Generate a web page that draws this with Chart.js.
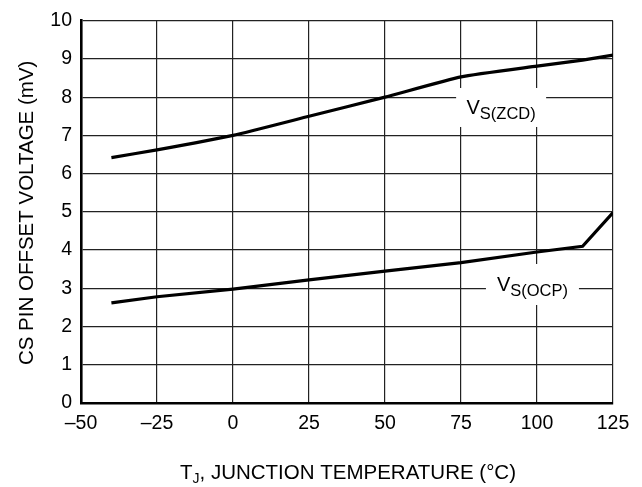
<!DOCTYPE html>
<html>
<head>
<meta charset="utf-8">
<script src="https://cdn.jsdelivr.net/npm/chart.js@4.4.0/dist/chart.umd.min.js"></script>
<style>
  html, body { margin: 0; padding: 0; background: #fff; }
  #wrap { width: 642px; height: 487px; }
</style>
</head>
<body>
<div id="wrap"><canvas id="c" width="642" height="487"></canvas></div>
<script>
const temperatures = [-40, -25, 0, 25, 50, 75, 100, 115, 125];
const vsZcd = [6.42, 6.62, 7.0, 7.5, 8.0, 8.53, 8.81, 8.97, 9.1];
const vsOcp = [2.62, 2.78, 2.98, 3.22, 3.45, 3.67, 3.95, 4.1, 4.98];
const xTicks = [-50, -25, 0, 25, 50, 75, 100, 125];
const yTicks = [0, 1, 2, 3, 4, 5, 6, 7, 8, 9, 10];
const xTitleMain = 'T';
const xTitleSub = 'J';
const xTitleRest = ', JUNCTION TEMPERATURE (\u00B0C)';
const yTitle = 'CS PIN OFFSET VOLTAGE (mV)';
const curveLabels = [
  { main: 'V', sub: 'S(ZCD)', x: 88.2, y: 7.73, w: 90, h: 39 },
  { main: 'V', sub: 'S(OCP)', x: 98.5, y: 3.10, w: 93, h: 41 }
];

const FONT = '"Liberation Sans", Arial, Helvetica, sans-serif';

const toPts = (xs, ys) => xs.map((x, i) => ({ x: x, y: ys[i] }));

const annot = {
  id: 'annot',
  afterDatasetsDraw(chart) {
    const ctx = chart.ctx;
    const xs = chart.scales.x, ys = chart.scales.y;
    ctx.save();
    ctx.textBaseline = 'alphabetic';
    curveLabels.forEach(l => {
      const cx = xs.getPixelForValue(l.x);
      const cy = ys.getPixelForValue(l.y);
      ctx.fillStyle = '#fff';
      ctx.fillRect(cx - l.w / 2, cy - l.h / 2, l.w, l.h);
      ctx.font = '20px ' + FONT;
      const wm = ctx.measureText(l.main).width;
      ctx.font = '16.5px ' + FONT;
      const ws = ctx.measureText(l.sub).width;
      const x0 = cx - (wm + ws) / 2;
      ctx.fillStyle = '#000';
      ctx.font = '20px ' + FONT;
      ctx.fillText(l.main, x0, cy + 7);
      ctx.font = '16.5px ' + FONT;
      ctx.fillText(l.sub, x0 + wm, cy + 12);
    });
    ctx.restore();
  },
  afterDraw(chart) {
    const ctx = chart.ctx;
    const a = chart.chartArea;
    ctx.save();
    ctx.fillStyle = '#000';
    ctx.textBaseline = 'alphabetic';
    ctx.font = '20.5px ' + FONT;
    const w1 = ctx.measureText(xTitleMain).width;
    const w3 = ctx.measureText(xTitleRest).width;
    ctx.font = '14px ' + FONT;
    const w2 = ctx.measureText(xTitleSub).width;
    const cx = (a.left + a.right) / 2 + 1;
    const x0 = cx - (w1 + w2 + w3) / 2;
    const by = 479;
    ctx.font = '20.5px ' + FONT;
    ctx.fillText(xTitleMain, x0, by);
    ctx.font = '14px ' + FONT;
    ctx.fillText(xTitleSub, x0 + w1, by + 4);
    ctx.font = '20.5px ' + FONT;
    ctx.fillText(xTitleRest, x0 + w1 + w2, by);
    ctx.translate(33, (a.top + a.bottom) / 2 + 1);
    ctx.rotate(-Math.PI / 2);
    ctx.textAlign = 'center';
    ctx.fillText(yTitle, 0, 0);
    ctx.restore();
  }
};

new Chart(document.getElementById('c'), {
  type: 'line',
  data: {
    datasets: [
      { label: 'VS(ZCD)', data: toPts(temperatures, vsZcd), borderColor: '#000', borderWidth: 3.2, pointRadius: 0, tension: 0.15, fill: false },
      { label: 'VS(OCP)', data: toPts(temperatures, vsOcp), borderColor: '#000', borderWidth: 3.2, pointRadius: 0, tension: 0, fill: false }
    ]
  },
  options: {
    responsive: false,
    animation: false,
    devicePixelRatio: 1,
    layout: { padding: { top: 18, right: 29, left: 0, bottom: 0 } },
    plugins: { legend: { display: false }, tooltip: { enabled: false } },
    scales: {
      x: {
        type: 'linear', min: -50, max: 125,
        afterBuildTicks: s => { s.ticks = xTicks.map(v => ({ value: v })); },
        afterFit: s => { s.height = 84; },
        ticks: { color: '#000', font: { family: FONT, size: 19.5 }, padding: 9, maxRotation: 0,
          callback: v => (v < 0 ? '\u2013' + Math.abs(v) : String(v)) },
        grid: { color: '#222', lineWidth: 1.2, drawTicks: false },
        border: { color: '#000', width: 2.6 }
      },
      y: {
        type: 'linear', min: 0, max: 10,
        afterBuildTicks: s => { s.ticks = yTicks.map(v => ({ value: v })); },
        afterFit: s => { s.width = 81; },
        ticks: { color: '#000', font: { family: FONT, size: 19.5 }, padding: 9 },
        grid: { color: '#222', lineWidth: 1.2, drawTicks: false },
        border: { color: '#000', width: 2.6 }
      }
    }
  },
  plugins: [annot]
});
</script>
</body>
</html>
